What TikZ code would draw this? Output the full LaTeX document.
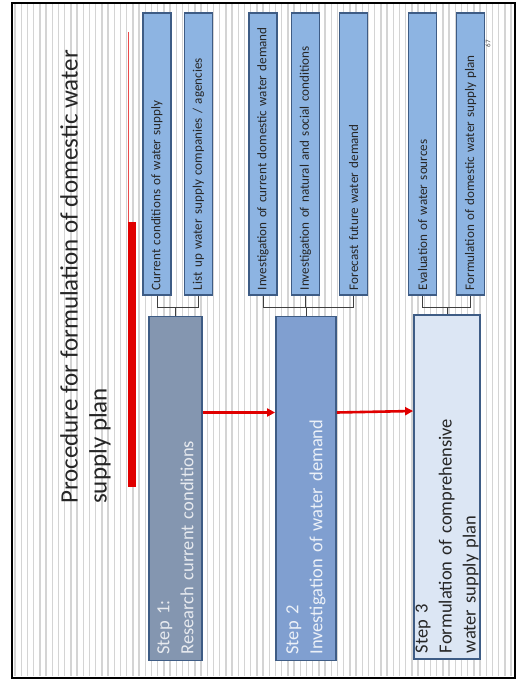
\documentclass[tikz,border=0pt]{standalone}
\usepackage{fontspec}
\setmainfont{Carlito}
\usepackage{tikz}
\usetikzlibrary{arrows.meta, positioning}
\definecolor{boxblue}{HTML}{8DB4E2}
\definecolor{boxedge}{HTML}{3E5C85}
\definecolor{stepgray}{HTML}{8496B0}
\definecolor{stepblue}{HTML}{809FD0}
\definecolor{steplight}{HTML}{DCE6F4}
\definecolor{accentred}{HTML}{E00000}
\definecolor{stripegray}{HTML}{D4D4D4}

\begin{document}
\begin{tikzpicture}[x=1pt, y=-1pt, >=Triangle,
    subbox/.style={draw=boxedge, line width=1.8pt, fill=boxblue, rotate=90,
      minimum width=282pt, minimum height=28pt, text width=272pt, align=left,
      inner sep=0pt, text=black!85, font=\fontsize{13.1}{14}\selectfont},
    stepbox/.style={draw=boxedge, line width=1.8pt, rotate=90,
      minimum width=344pt, text width=332pt, align=left, inner sep=0pt,
      font=\fontsize{18.5}{24}\selectfont},
    link/.style={draw=black!75, line width=0.9pt},
    flow/.style={-{Triangle[length=8pt, width=8pt]}, draw=accentred, line width=2.6pt}]
  \useasboundingbox (0,0) rectangle (519,684);
  % slide background
  \fill[white] (0,0) rectangle (519,684);
  \foreach \sx in {15,21.2,...,512}
    \draw[stripegray, line width=1.4pt] (\sx,4) -- (\sx,676);
  \draw[line width=2pt] (12,3) rectangle (515,678);
  % title
  \node[rotate=90, anchor=north west, inner sep=0pt, align=left, text=black!85,
        font=\fontsize{25}{29}\selectfont] (title) at (60,504)
        {Procedure for formulation of domestic water\\supply plan};
  \draw[accentred!70, line width=1pt] (128.5,32) -- (128.5,222);
  \fill[accentred] (128,222) rectangle (136,487);
  \node[rotate=90, inner sep=0pt, text=black!70, font=\fontsize{7}{8}\selectfont] (pgnum) at (488,44) {67};
  % Step 1
  \node[stepbox, fill=stepgray, text=white!80!stepgray, minimum height=53pt] (s1) at (175.5,488.5)
        {Step 1:\\Research current conditions};
  \node[subbox] (c1) at (157,154) {Current conditions of water supply};
  \node[subbox] (c2) at (198.5,154) {List up water supply companies / agencies};
  % Step 2
  \node[stepbox, fill=stepblue, text=white!85!stepblue, minimum height=60pt] (s2) at (306,488.5)
        {Step 2\\Investigation of water demand};
  \node[subbox] (c3) at (263,154) {Investigation of current domestic water demand};
  \node[subbox] (c4) at (305.5,154) {Investigation of natural and social conditions};
  \node[subbox] (c5) at (353.5,154) {Forecast future water demand};
  % Step 3
  \node[stepbox, fill=steplight, text=black!85, minimum height=66pt] (s3) at (447,487)
        {Step 3\\Formulation of comprehensive\\water supply plan};
  \node[subbox] (c6) at (422.5,154) {Evaluation of water sources};
  \node[subbox] (c7) at (470.5,154) {Formulation of domestic water supply plan};
  % brackets
  \coordinate (bar) at (0,307);
  \draw[link] (c1.west) -- (c1.west |- bar) -| (c2.west);
  \draw[link] (s1.east) -- (s1.east |- bar);
  \draw[link] (c3.west) -- (c3.west |- bar) -| (c5.west);
  \draw[link] (c4.west) -- (c4.west |- bar);
  \draw[link] (s2.east) -- (s2.east |- bar);
  \draw[link] (c6.west) -- (c6.west |- bar) -| (c7.west);
  \draw[link] (s3.east) -- (s3.east |- bar);
  % flow between steps
  \draw[flow] ([yshift=76pt]s1.south) -- ([yshift=76pt]s2.north);
  \draw[flow] ([yshift=76pt]s2.south) -- ([yshift=76pt]s3.north);
\end{tikzpicture}
\end{document}
